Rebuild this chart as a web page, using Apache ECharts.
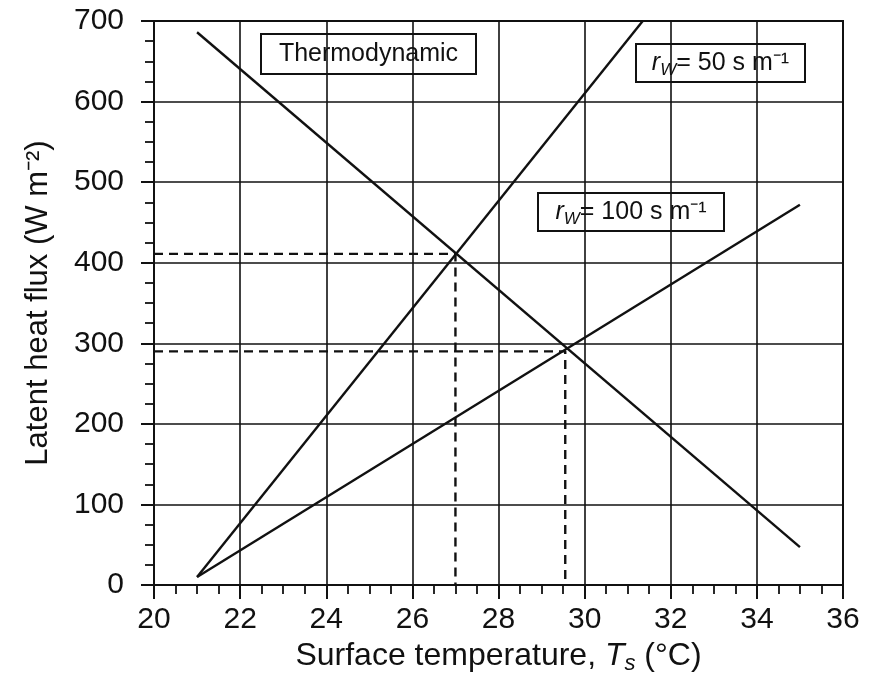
<!DOCTYPE html>
<html>
<head>
<meta charset="utf-8">
<script src="https://cdn.jsdelivr.net/npm/echarts@6/dist/echarts.min.js"></script>
<style>
  html, body { margin: 0; padding: 0; background: #fff; }
  #chart { width: 869px; height: 680px; }
</style>
</head>
<body>
<div id="chart"></div>
<script>
// line end points: [surface temperature, latent heat flux]
const thermodynamic = [[21, 686], [35, 47]];
const rw50 = [[21, 10], [31.35, 700]];
const rw100 = [[21, 10], [35, 472]];
// dashed guides to the two intersections
const guide50 = [[20, 411], [27, 411], [27, 0]];
const guide100 = [[20, 290], [29.55, 290], [29.55, 0]];

const xTicks = [20, 22, 24, 26, 28, 30, 32, 34, 36];
const yTicks = [0, 100, 200, 300, 400, 500, 600, 700];

const font = '"Liberation Sans", Arial, sans-serif';
const ink = '#111';

const chart = echarts.init(document.getElementById('chart'));

function solid(name, data) {
  return {
    name, type: 'line', data, symbol: 'none', silent: true,
    lineStyle: { color: ink, width: 2.4 },
  };
}
function dashed(name, data) {
  return {
    name, type: 'line', data, symbol: 'none', silent: true,
    lineStyle: { color: ink, width: 2.4, type: [9, 6] },
  };
}

function boxLabel(left, top, w, h, rich, text) {
  return {
    type: 'group', left, top,
    children: [
      { type: 'rect', shape: { x: 0, y: 0, width: w, height: h },
        style: { fill: '#fff', stroke: ink, lineWidth: 2 } },
      { type: 'text', x: w / 2, y: h / 2,
        style: { text, rich, align: 'center', verticalAlign: 'middle',
                 font: '25px ' + font, fill: ink } },
    ],
  };
}

const rwRich = {
  r: { fontFamily: font, fontSize: 25, fontStyle: 'italic', fill: ink },
  w: { fontFamily: font, fontSize: 17, fontStyle: 'italic', fill: ink, padding: [14, 0, 0, 0] },
  t: { fontFamily: font, fontSize: 25, fill: ink },
};

const tickFont = { fontFamily: font, fontSize: 30, color: ink };

chart.setOption({
  animation: false,
  backgroundColor: '#fff',
  grid: {
    left: 154, right: 26, top: 21, bottom: 95,
    outerBoundsMode: 'none', containLabel: false,
    show: true, borderColor: ink, borderWidth: 2,
  },
  xAxis: {
    type: 'value', min: xTicks[0], max: xTicks[xTicks.length - 1], interval: 2,
    name: '{a|Surface temperature, }{i|T}{s|s}{a| (°C)}',
    nameLocation: 'middle', nameGap: 50,
    nameTextStyle: {
      rich: {
        a: { fontFamily: font, fontSize: 32, color: ink },
        i: { fontFamily: font, fontSize: 32, color: ink, fontStyle: 'italic' },
        s: { fontFamily: font, fontSize: 22, color: ink, fontStyle: 'italic', padding: [16, 0, 0, 0] },
      },
    },
    axisLine: { lineStyle: { color: ink, width: 2 } },
    axisTick: { show: true, length: 14, lineStyle: { color: ink, width: 2 } },
    minorTick: { show: true, splitNumber: 4, length: 9, lineStyle: { color: ink, width: 1.8 } },
    axisLabel: Object.assign({ margin: 20 }, tickFont),
    splitLine: { show: true, lineStyle: { color: ink, width: 1.6 } },
  },
  yAxis: {
    type: 'value', min: yTicks[0], max: yTicks[yTicks.length - 1], interval: 100,
    name: 'Latent heat flux (W m⁻²)',
    nameLocation: 'middle', nameGap: 100,
    nameTextStyle: { fontFamily: font, fontSize: 31, color: ink },
    axisLine: { show: true, lineStyle: { color: ink, width: 2 } },
    axisTick: { show: true, length: 13, lineStyle: { color: ink, width: 2 } },
    minorTick: { show: true, splitNumber: 4, length: 9, lineStyle: { color: ink, width: 1.8 } },
    axisLabel: Object.assign({ margin: 30 }, tickFont),
    splitLine: { show: true, lineStyle: { color: ink, width: 1.6 } },
  },
  series: [
    solid('Thermodynamic', thermodynamic),
    solid('rw50', rw50),
    solid('rw100', rw100),
    dashed('guide50', guide50),
    dashed('guide100', guide100),
  ],
  graphic: [
    boxLabel(260, 33, 215, 40, null, 'Thermodynamic'),
    boxLabel(635, 43, 169, 38, rwRich, '{r|r}{w|W}{t|= 50 s m⁻¹}'),
    boxLabel(537, 192, 186, 38, rwRich, '{r|r}{w|W}{t|= 100 s m⁻¹}'),
  ],
});
</script>
</body>
</html>
